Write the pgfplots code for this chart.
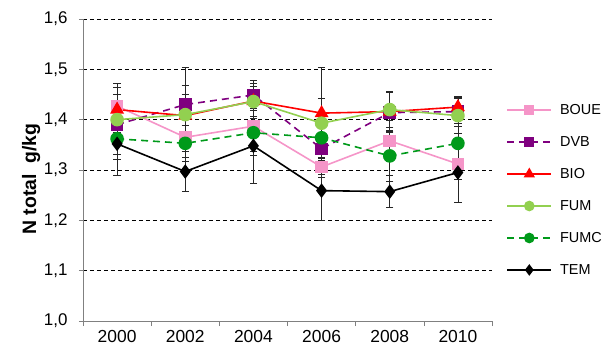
\documentclass[border=0pt]{standalone}
\usepackage{pgfplots}
\pgfplotsset{compat=1.18}
\usepackage{pgfplotstable}
\usepackage{fontspec}
\setmainfont{Liberation Sans}
\definecolor{cBOUE}{HTML}{F595C8}
\definecolor{cDVB}{HTML}{7F007F}
\definecolor{cBIO}{HTML}{FF0000}
\definecolor{cFUM}{HTML}{92D050}
\definecolor{cFUMC}{HTML}{009A1A}
\pgfplotstableread{
x y e
0 1.427 0.045
1 1.365 0.040
2 1.387 0.050
3 1.306 0.020
4 1.358 0.040
5 1.312 0.030
}\tBOUE
\pgfplotstableread{
x y e
0 1.390 0.060
1 1.430 0.073
2 1.449 0.030
3 1.342 0.050
4 1.414 0.040
5 1.416 0.030
}\tDVB
\pgfplotstableread{
x y e
0 1.420 0.045
1 1.408 0.060
2 1.437 0.035
3 1.413 0.090
4 1.416 0.040
5 1.425 0.020
}\tBIO
\pgfplotstableread{
x y e
0 1.400 0.050
1 1.410 0.040
2 1.436 0.030
3 1.393 0.050
4 1.420 0.035
5 1.408 0.035
}\tFUM
\pgfplotstableread{
x y e
0 1.362 0.040
1 1.353 0.035
2 1.374 0.045
3 1.364 0.050
4 1.328 0.050
5 1.353 0.040
}\tFUMC
\pgfplotstableread{
x y e
0 1.352 0.062
1 1.297 0.040
2 1.348 0.074
3 1.259 0.060
4 1.257 0.032
5 1.295 0.060
}\tTEM
\begin{document}
\begin{tikzpicture}
\useasboundingbox (-83bp,-33bp) rectangle (520bp,321bp);
\begin{axis}[
  scale only axis,
  width=409bp, height=302bp,
  xmin=-0.5, xmax=5.5,
  ymin=1.0, ymax=1.6,
  ytick={1.0,1.1,1.2,1.3,1.4,1.5,1.6},
  xtick={0,...,5},
  xticklabels={2000,2002,2004,2006,2008,2010},
  minor xtick={-0.5,0.5,...,5.5},
  major x tick style={draw=none},
  minor tick length=5bp,
  major tick length=4bp,
  tick align=outside,
  tick style={gray, line width=0.6bp},
  axis x line*=bottom, axis y line*=left,
  axis line style={gray, line width=0.8bp, -},
  ymajorgrids,
  major grid style={black, dash pattern=on 4bp off 3bp, line width=0.7bp},
  /pgf/number format/assume math mode=true,
  ticklabel style={font=\fontsize{17}{19}\selectfont},
  yticklabel style={xshift=-8bp, /pgf/number format/.cd, use comma, fixed, fixed zerofill, precision=1},
  xticklabel style={yshift=-2bp, font=\fontsize{17.5}{19}\selectfont},
  ylabel={\textbf{N total\ \ g/kg}},
  ylabel style={font=\fontsize{19.5}{21}\selectfont, at={(axis description cs:-0.127,0.47)}, anchor=center},
  legend cell align=left,
  legend style={at={(1.035,0.725)}, anchor=north west, draw=none, fill=none,
    font=\fontsize{14.5}{16}\selectfont, row sep=16.5bp, inner sep=0pt,
    /tikz/every odd column/.append style={column sep=6bp}},
  legend image code/.code={\draw[mark repeat=2,mark phase=2,#1,every mark/.append style={scale=0.75}] plot coordinates {(0bp,0bp)(22bp,0bp)(44bp,0bp)};},
  every axis plot/.append style={line width=1.6bp},
  error bars/y dir=both, error bars/y explicit,
  error bars/error bar style={black!85, line width=0.8bp, solid},
  error bars/error mark options={black!85, line width=0.8bp, mark size=3.6bp, rotate=90},
]
\addplot[cBOUE, mark=square*, mark size=5.5bp, mark options={solid}] table[x=x,y=y,y error=e]{\tBOUE};
\addlegendentry{BOUE}
\addplot[cDVB, dash pattern=on 7bp off 5bp, mark=square*, mark size=5.5bp, mark options={solid}] table[x=x,y=y,y error=e]{\tDVB};
\addlegendentry{DVB}
\addplot[cBIO, mark=triangle*, mark size=6.5bp, mark options={solid}] table[x=x,y=y,y error=e]{\tBIO};
\addlegendentry{BIO}
\addplot[cFUM, mark=*, mark size=6bp, mark options={solid}] table[x=x,y=y,y error=e]{\tFUM};
\addlegendentry{FUM}
\addplot[cFUMC, dash pattern=on 7bp off 5bp, mark=*, mark size=6bp, mark options={solid}] table[x=x,y=y,y error=e]{\tFUMC};
\addlegendentry{FUMC}
\addplot[black, mark=diamond*, mark size=6bp, mark options={solid}] table[x=x,y=y,y error=e]{\tTEM};
\addlegendentry{TEM}
\end{axis}
\end{tikzpicture}
\end{document}
